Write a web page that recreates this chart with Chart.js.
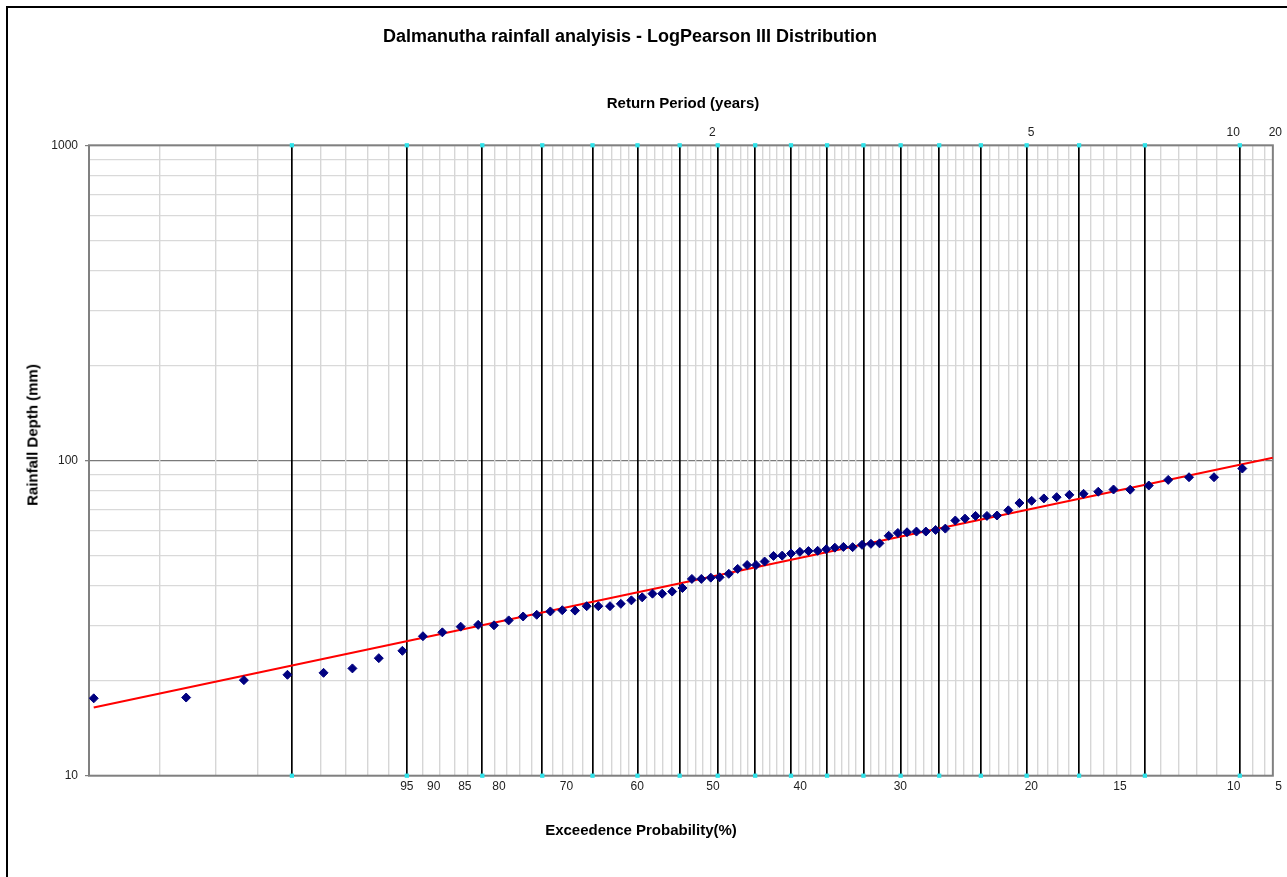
<!DOCTYPE html>
<html>
<head>
<meta charset="utf-8">
<script src="https://cdn.jsdelivr.net/npm/chart.js@4.4.0/dist/chart.umd.min.js"></script>
<style>
  html, body { margin: 0; padding: 0; background: #fff; overflow: hidden; }
  body { width: 1287px; height: 877px; position: relative; font-family: "Liberation Sans", Arial, sans-serif; }
  #frame { position: absolute; left: 6px; top: 6px; width: 1400px; height: 1000px; border: 2px solid #000; }
  #wrap { position: absolute; left: 0; top: 0; width: 1287px; height: 877px; }
  .t { position: absolute; font-weight: bold; color: #000; white-space: nowrap; transform: translate(-50%, -50%); }
</style>
</head>
<body>
<div id="frame"></div>
<div id="wrap"><canvas id="chart" width="1287" height="877"></canvas></div>
<div class="t" style="left:630px;top:36px;font-size:18px">Dalmanutha rainfall analyisis - LogPearson III Distribution</div>
<div class="t" style="left:683px;top:102px;font-size:15px">Return Period (years)</div>
<div class="t" style="left:641px;top:829px;font-size:15px">Exceedence Probability(%)</div>
<div class="t" style="left:32px;top:435px;font-size:15px;transform:translate(-50%,-50%) rotate(-90deg)">Rainfall Depth (mm)</div>
<script>
// x axis is a probability variate (0 = the "2 year" mark), y is rainfall depth in mm
const xMin = -2.25;
const xMax = 2.015;

// observed annual maxima (plotting position, mm)
const obsX = [-2.233, -1.900, -1.692, -1.535, -1.405, -1.301, -1.206, -1.121, -1.047, -0.977,
  -0.911, -0.848, -0.791, -0.738, -0.686, -0.637, -0.588, -0.545, -0.499, -0.457,
  -0.415, -0.373, -0.334, -0.296, -0.257, -0.220, -0.185, -0.149, -0.112, -0.078,
  -0.044, -0.010, 0.022, 0.055, 0.087, 0.121, 0.153, 0.184, 0.216, 0.247,
  0.279, 0.311, 0.342, 0.375, 0.406, 0.437, 0.468, 0.501, 0.535, 0.567,
  0.598, 0.631, 0.664, 0.697, 0.731, 0.765, 0.800, 0.835, 0.871, 0.906,
  0.944, 0.985, 1.021, 1.062, 1.102, 1.146, 1.190, 1.236, 1.282, 1.333,
  1.386, 1.441, 1.501, 1.568, 1.638, 1.713, 1.803, 1.905];
const obsY = [17.6, 17.7, 20.1, 20.9, 21.2, 21.9, 23.6, 24.9, 27.7, 28.5,
  29.7, 30.1, 30.0, 31.1, 32.0, 32.4, 33.2, 33.5, 33.4, 34.5,
  34.5, 34.5, 35.1, 36.0, 36.8, 37.8, 37.8, 38.4, 39.4, 42.1,
  42.1, 42.5, 42.6, 43.7, 45.3, 46.6, 46.6, 47.8, 49.8, 49.9,
  50.7, 51.3, 51.6, 51.7, 52.3, 52.9, 53.2, 53.1, 54.0, 54.4,
  54.6, 57.7, 58.9, 59.2, 59.5, 59.5, 60.2, 60.8, 64.5, 65.4,
  66.7, 66.7, 66.9, 69.5, 73.3, 74.5, 75.8, 76.5, 77.8, 78.4,
  79.6, 80.9, 80.8, 83.3, 86.8, 88.5, 88.5, 94.3];

// fitted LP3 line
const fitX = [-2.233, 2.015];
const fitY = [16.46, 102.1];

// probability paper grid
const majorX = [-1.519, -1.105, -0.833, -0.617, -0.436, -0.274, -0.122, 0.015, 0.150, 0.279,
  0.409, 0.540, 0.674, 0.813, 0.963, 1.128, 1.317, 1.554, 1.896];
const minorX = [-1.997, -1.793, -1.642, -1.417, -1.325, -1.247, -1.172, -1.046, -0.986, -0.932,
  -0.884, -0.788, -0.746, -0.698, -0.656, -0.578, -0.542, -0.506, -0.470, -0.400,
  -0.368, -0.336, -0.305, -0.242, -0.211, -0.182, -0.151, -0.092, -0.066, -0.038,
  -0.011, 0.043, 0.069, 0.097, 0.123, 0.177, 0.201, 0.228, 0.253, 0.306,
  0.333, 0.357, 0.384, 0.435, 0.462, 0.487, 0.513, 0.567, 0.595, 0.621,
  0.647, 0.701, 0.729, 0.756, 0.785, 0.843, 0.873, 0.903, 0.933, 0.995,
  1.029, 1.062, 1.095, 1.167, 1.204, 1.241, 1.278, 1.359, 1.406, 1.454,
  1.503, 1.610, 1.676, 1.741, 1.813, 1.942, 1.985];

// axis labels
const probTickPos = [-1.105, -1.008, -0.896, -0.773, -0.530, -0.275, -0.002, 0.312, 0.673, 1.145, 1.464, 1.874, 2.036];
const probTickLabels = ['95', '90', '85', '80', '70', '60', '50', '40', '30', '20', '15', '10', '5'];
const returnTickPos = [-0.004, 1.144, 1.872, 2.024];
const returnTickLabels = ['2', '5', '10', '20'];
const yGrid = [10, 20, 30, 40, 50, 60, 70, 80, 90, 100, 200, 300, 400, 500, 600, 700, 800, 900, 1000];
const yLabels = [10, 100, 1000];

const majorSet = new Set(majorX);
const gridX = minorX.concat(majorX).sort((a, b) => a - b);
const markerPts = majorX.map(x => ({ x, y: 1000 })).concat(majorX.map(x => ({ x, y: 10 })));

const plotFrame = {
  id: 'plotFrame',
  beforeDatasetsDraw(chart) {
    const a = chart.chartArea;
    const c = chart.ctx;
    c.save();
    c.strokeStyle = '#808080';
    c.lineWidth = 2;
    c.strokeRect(a.left, a.top, a.right - a.left, a.bottom - a.top);
    c.restore();
  }
};

const tickFont = { family: '"Liberation Sans", Arial, sans-serif', size: 12 };

new Chart(document.getElementById('chart').getContext('2d'), {
  type: 'scatter',
  data: {
    datasets: [
      {
        label: 'Observed',
        data: obsX.map((x, i) => ({ x, y: obsY[i] })),
        pointStyle: 'rectRot',
        radius: 4.5,
        backgroundColor: '#000080',
        borderColor: '#000080',
        borderWidth: 1
      },
      {
        label: 'LP3',
        data: fitX.map((x, i) => ({ x, y: fitY[i] })),
        showLine: true,
        borderColor: '#ff0000',
        borderWidth: 2,
        pointRadius: 0
      },
      {
        label: 'markers',
        data: markerPts,
        pointStyle: 'rect',
        radius: 3,
        backgroundColor: '#2fe3ea',
        borderColor: '#2fe3ea',
        borderWidth: 0,
        clip: false
      }
    ]
  },
  options: {
    responsive: false,
    devicePixelRatio: 1,
    animation: false,
    layout: { padding: { left: 0, right: 13, top: 125.3, bottom: 81.3 } },
    plugins: { legend: { display: false }, tooltip: { enabled: false } },
    scales: {
      x: {
        type: 'linear', position: 'bottom', min: xMin, max: xMax,
        afterBuildTicks: s => { s.ticks = gridX.map(v => ({ value: v })); },
        afterFit: s => { s.height = 0; },
        ticks: { display: false },
        grid: {
          drawTicks: false,
          z: -1,
          color: c => (c.tick && majorSet.has(c.tick.value)) ? '#000000' : '#d6d6d6',
          lineWidth: c => (c.tick && majorSet.has(c.tick.value)) ? 1.7 : 1.4
        },
        border: { display: false }
      },
      xp: {
        type: 'linear', position: 'bottom', min: xMin, max: xMax,
        afterBuildTicks: s => { s.ticks = probTickPos.map(v => ({ value: v })); },
        afterFit: s => { s.height = 20; },
        ticks: {
          autoSkip: false, maxRotation: 0, padding: 4, font: tickFont, color: '#222',
          callback: (v, i) => probTickLabels[i]
        },
        grid: { display: false, drawTicks: false },
        border: { display: false }
      },
      xt: {
        type: 'linear', position: 'top', min: xMin, max: xMax,
        afterBuildTicks: s => { s.ticks = returnTickPos.map(v => ({ value: v })); },
        afterFit: s => { s.height = 20; },
        ticks: {
          autoSkip: false, maxRotation: 0, padding: 5, font: tickFont, color: '#222',
          callback: (v, i) => returnTickLabels[i]
        },
        grid: { display: false, drawTicks: false },
        border: { display: false }
      },
      y: {
        type: 'logarithmic', position: 'left', min: 10, max: 1000,
        afterBuildTicks: s => { s.ticks = yGrid.map(v => ({ value: v })); },
        afterFit: s => { s.width = 89; },
        ticks: {
          autoSkip: false, padding: 7, font: tickFont, color: '#222',
          callback: v => yLabels.includes(v) ? String(v) : ''
        },
        grid: {
          z: -2,
          tickLength: 4,
          color: c => (c.tick && c.tick.value === 100) ? '#7a7a7a' : '#d9d9d9',
          lineWidth: c => (c.tick && c.tick.value === 100) ? 1.3 : 1.2,
          tickColor: c => (c.tick && yLabels.includes(c.tick.value)) ? '#808080' : 'rgba(0,0,0,0)'
        },
        border: { display: false }
      }
    }
  },
  plugins: [plotFrame]
});
</script>
</body>
</html>
